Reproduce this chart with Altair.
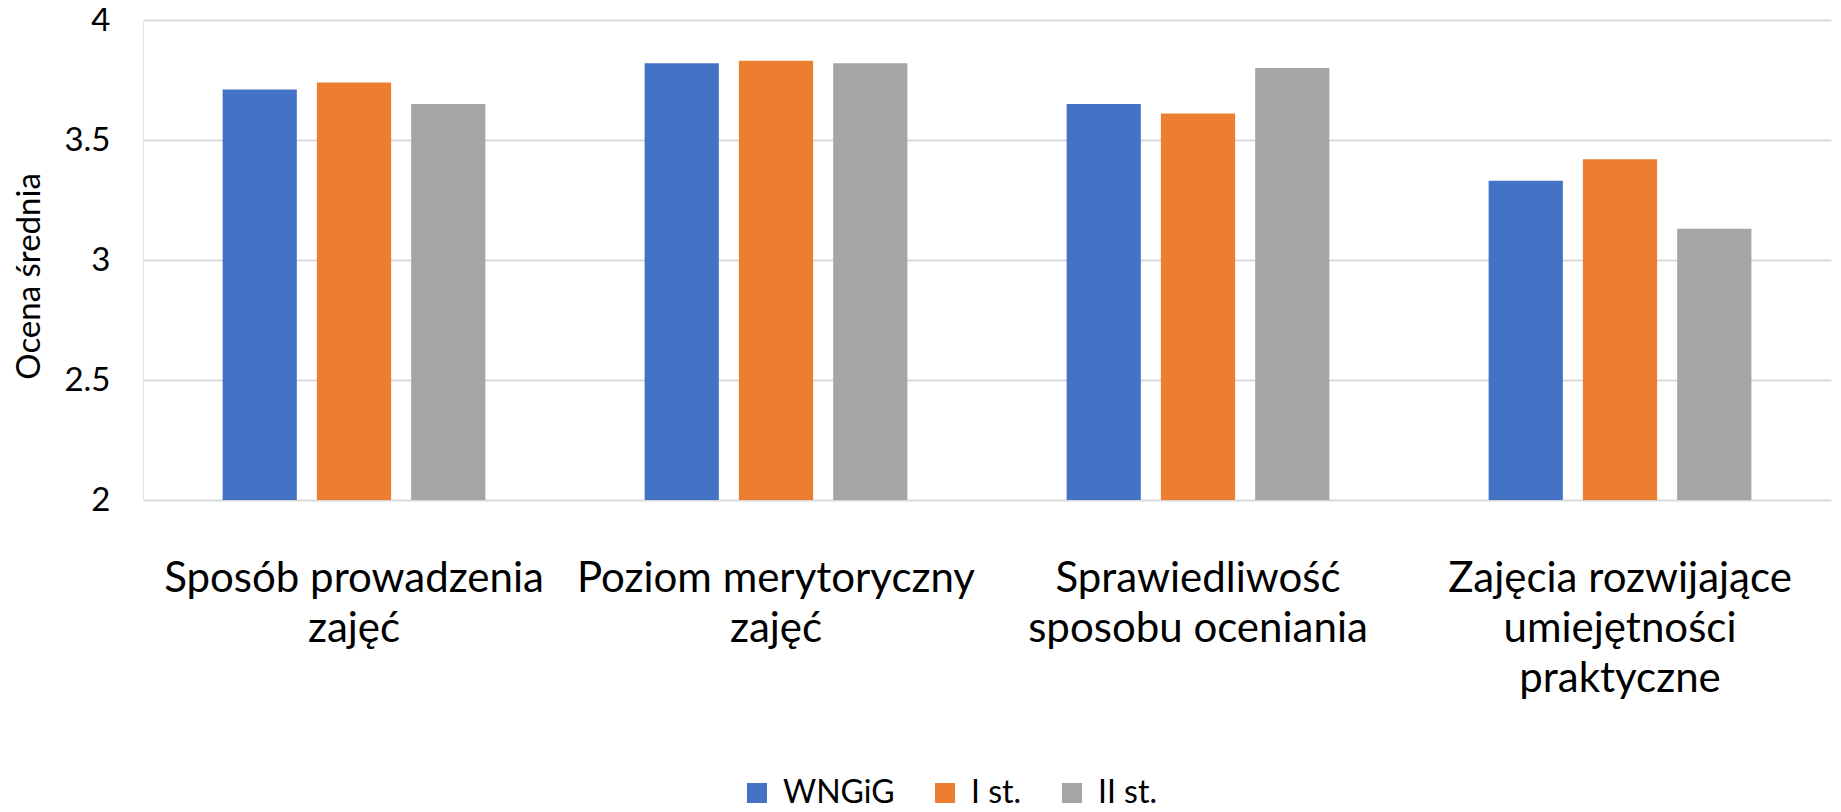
import altair as alt
import pandas as pd

categories = [
    "Sposób prowadzenia|zajęć",
    "Poziom merytoryczny|zajęć",
    "Sprawiedliwość|sposobu oceniania",
    "Zajęcia rozwijające|umiejętności|praktyczne",
]
series = ["WNGiG", "I st.", "II st."]
wngig = [3.71, 3.82, 3.65, 3.33]
i_st = [3.74, 3.83, 3.61, 3.42]
ii_st = [3.65, 3.82, 3.80, 3.13]
colors = ["#4472C4", "#ED7D31", "#A5A5A5"]
y_min, y_max = 2, 4

rows = []
for s, vals in zip(series, [wngig, i_st, ii_st]):
    for c, v in zip(categories, vals):
        rows.append({"kategoria": c, "seria": s, "ocena": v})
df = pd.DataFrame(rows)

FONT = "Lato"

chart = (
    alt.Chart(df)
    .mark_bar()
    .encode(
        x=alt.X(
            "kategoria:N",
            sort=categories,
            scale=alt.Scale(paddingInner=0.33, paddingOuter=0.165),
            axis=alt.Axis(
                title=None,
                labelAngle=0,
                labelExpr="split(datum.label, '|')",
                labelFontSize=42,
                labelLineHeight=50,
                labelPadding=58,
                labelLimit=700,
                ticks=False,
                tickSize=0,
                domain=False,
                grid=False,
            ),
        ),
        xOffset=alt.XOffset(
            "seria:N",
            sort=series,
            scale=alt.Scale(paddingInner=0.213, paddingOuter=0.106),
        ),
        y=alt.Y(
            "ocena:Q",
            scale=alt.Scale(domain=[y_min, y_max], zero=False, nice=False),
            axis=alt.Axis(
                title="Ocena średnia",
                values=[2, 2.5, 3, 3.5, 4],
                format="~g",
                labelFontSize=33,
                labelPadding=33,
                ticks=False,
                tickSize=0,
                domain=True,
                domainColor="#e6e6e6",
                domainWidth=1,
                grid=True,
                gridColor="#d9d9d9",
                gridWidth=2,
                titleFontSize=33,
                titleFontWeight="normal",
                titleAngle=270,
                titleX=-114,
                titleY=256,
                titleAlign="center",
                titleBaseline="middle",
            ),
        ),
        y2=alt.datum(y_min),
        color=alt.Color(
            "seria:N",
            sort=series,
            scale=alt.Scale(domain=series, range=colors),
            legend=alt.Legend(
                title=None,
                orient="none",
                direction="horizontal",
                legendX=598,
                legendY=757,
                symbolType="square",
                symbolSize=400,
                symbolStrokeWidth=0,
                labelFontSize=32,
                labelOffset=10,
                columnPadding=34,
                labelFont=FONT,
                labelColor="#000000",
            ),
        ),
    )
    .properties(
        width=1688,
        height=480,
        autosize=alt.AutoSizeParams(type="none"),
        padding={"left": 135, "top": 12, "right": 2, "bottom": 304},
    )
    .configure_view(stroke=None)
    .configure_axis(labelFont=FONT, titleFont=FONT, labelColor="#000000", titleColor="#000000")
    .configure_legend(labelFont=FONT)
)

chart.save("out.html", embed_options={"renderer": "svg", "actions": False})
